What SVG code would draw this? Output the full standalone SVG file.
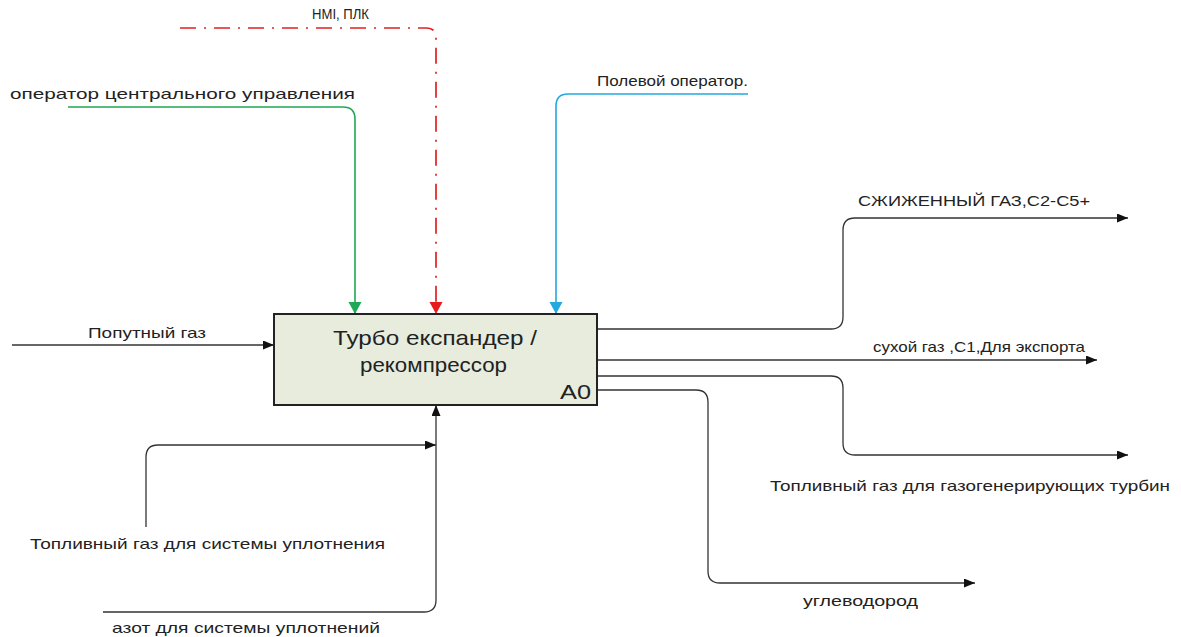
<svg xmlns="http://www.w3.org/2000/svg" width="1181" height="637" viewBox="0 0 1181 637">
<style>
.lbl{font-family:"Liberation Sans",Arial,sans-serif;font-size:15px;fill:#222}
.ttl{font-family:"Liberation Sans",Arial,sans-serif;font-size:21px;fill:#222}
.c{fill:none;stroke:#333;stroke-width:1.3}
</style>
<defs>
<marker id="ak" markerUnits="userSpaceOnUse" markerWidth="12" markerHeight="10" refX="11" refY="4.5" orient="auto"><path d="M0,0 L11,4.5 L0,9 z" fill="#111"/></marker>
<marker id="ag" markerUnits="userSpaceOnUse" markerWidth="14" markerHeight="14" refX="12" refY="6.5" orient="auto"><path d="M0,0 L12,6.5 L0,13 z" fill="#1fa855"/></marker>
<marker id="ar" markerUnits="userSpaceOnUse" markerWidth="14" markerHeight="14" refX="12" refY="6.5" orient="auto"><path d="M0,0 L12,6.5 L0,13 z" fill="#e81c1c"/></marker>
<marker id="ab" markerUnits="userSpaceOnUse" markerWidth="14" markerHeight="14" refX="12" refY="6.5" orient="auto"><path d="M0,0 L12,6.5 L0,13 z" fill="#23a8e0"/></marker>
</defs>
<rect width="1181" height="637" fill="#fff"/>
<g id="connectors">
<path d="M180 28 H426 Q436 28 436 38 V314" fill="none" stroke="#e02020" stroke-width="1.7" stroke-dasharray="16 8 2 8" marker-end="url(#ar)"/>
<path d="M68 107 H343 Q355 107 355 119 V314" fill="none" stroke="#1fa855" stroke-width="1.6" marker-end="url(#ag)"/>
<path d="M748 94 H568 Q556 94 556 106 V314" fill="none" stroke="#23a8e0" stroke-width="1.6" marker-end="url(#ab)"/>
<path class="c" d="M12 345 H274" marker-end="url(#ak)"/>
<path class="c" d="M597 329 H831 Q843 329 843 317 V230 Q843 218 855 218 H1128" marker-end="url(#ak)"/>
<path class="c" d="M597 360 H1097" marker-end="url(#ak)"/>
<path class="c" d="M597 376 H831 Q843 376 843 388 V443 Q843 455 855 455 H1128" marker-end="url(#ak)"/>
<path class="c" d="M597 390 H696 Q708 390 708 402 V571 Q708 583 720 583 H975" stroke="#555" stroke-width="1.1" marker-end="url(#ak)"/>
<path class="c" d="M146 527 V457 Q146 445 158 445 H436" marker-end="url(#ak)"/>
<path class="c" d="M103 612 H424 Q436 612 436 600 V405" marker-end="url(#ak)"/>
</g>
<g id="labels">
<text class="lbl" x="312" y="19" textLength="57" lengthAdjust="spacingAndGlyphs">HMI, ПЛК</text>
<text class="lbl" x="10" y="99" textLength="345" lengthAdjust="spacingAndGlyphs">оператор центрального управления</text>
<text class="lbl" x="597" y="86" textLength="151" lengthAdjust="spacingAndGlyphs">Полевой оператор.</text>
<text class="lbl" x="88" y="338" textLength="118" lengthAdjust="spacingAndGlyphs">Попутный газ</text>
<text class="lbl" x="858" y="206" textLength="232" lengthAdjust="spacingAndGlyphs">СЖИЖЕННЫЙ ГАЗ,С2-С5+</text>
<text class="lbl" x="873" y="352" textLength="212" lengthAdjust="spacingAndGlyphs">сухой газ ,С1,Для экспорта</text>
<text class="lbl" x="770" y="491" textLength="400" lengthAdjust="spacingAndGlyphs">Топливный газ для газогенерирующих турбин</text>
<text class="lbl" x="803" y="606" textLength="115" lengthAdjust="spacingAndGlyphs">углеводород</text>
<text class="lbl" x="30" y="549" textLength="355" lengthAdjust="spacingAndGlyphs">Топливный газ для системы уплотнения</text>
<text class="lbl" x="112" y="633" textLength="268" lengthAdjust="spacingAndGlyphs">азот для системы уплотнений</text>
</g>
<g id="A0">
<rect x="274" y="314" width="323" height="91" fill="#e7ecdd" stroke="#222" stroke-width="2"/>
<text class="ttl" x="333" y="345" textLength="204" lengthAdjust="spacingAndGlyphs">Турбо експандер /</text>
<text class="ttl" x="360" y="372" textLength="147" lengthAdjust="spacingAndGlyphs">рекомпрессор</text>
<text class="ttl" x="560" y="399" textLength="31" lengthAdjust="spacingAndGlyphs">A0</text>
</g>
</svg>
